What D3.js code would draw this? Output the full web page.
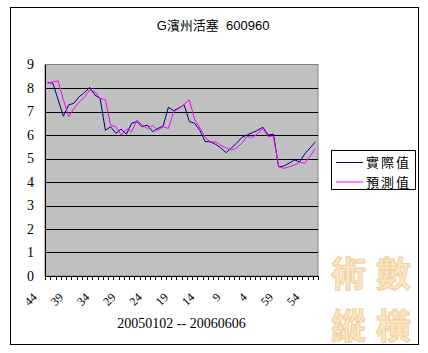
<!DOCTYPE html>
<html>
<head>
<meta charset="utf-8">
<script src="https://cdn.jsdelivr.net/npm/d3@7"></script>
<style>
  body { margin: 0; background: #fff; }
</style>
</head>
<body>
<div id="chart"></div>
<script>
// category labels (week numbers, as shown on the axis)
const categories = ["44","43","42","41","40","39","38","37","36","35","34","33","32","31","30",
  "29","28","27","26","25","24","23","22","21","20","19","18","17","16","15","14","13","12",
  "11","10","9","8","7","6","5","4","3","2","1","0","59","58","57","56","55","54","53"];

// 實際值 (actual)
const actual = [8.24,8.2,7.5,6.8,7.28,7.35,7.63,7.8,8.03,7.7,7.56,6.2,6.35,6.07,6.25,6.03,
  6.5,6.57,6.35,6.42,6.14,6.28,6.38,7.18,7.03,7.15,7.28,6.57,6.5,6.2,5.72,5.71,5.6,5.45,5.25,
  5.45,5.65,5.9,6.0,6.1,6.2,6.33,6.0,6.04,4.65,4.68,4.8,4.94,4.86,5.2,5.45,5.71];

// 預測值 (predicted)
const predicted = [8.2,8.27,8.3,7.5,6.78,7.13,7.4,7.6,7.91,7.84,7.56,7.5,6.42,6.35,6.0,6.25,
  6.14,6.64,6.42,6.28,6.4,6.2,6.35,6.28,6.99,7.13,7.3,7.49,6.65,6.3,5.9,5.71,5.7,5.57,5.45,
  5.36,5.45,5.65,5.93,5.9,6.05,6.28,5.93,5.96,4.65,4.58,4.65,4.72,4.84,4.8,5.1,5.43];

const yTicks = [0,1,2,3,4,5,6,7,8,9];
const title = "G濱州活塞\u00a0\u00a0600960";
const xTitle = "20050102 -- 20060606";
const seriesNames = ["實際值", "預測值"];
const seriesColors = ["#000080", "#ff00ff"];
const watermark = ["術數", "縱橫"];

const width = 428;
const height = 353;
const plotLeft = 45, plotRight = 318, plotTop = 64.5, plotBottom = 276;

const x = d3.scaleBand().domain(d3.range(categories.length)).range([plotLeft, plotRight]);
const y = d3.scaleLinear().domain([0, 9]).range([plotBottom, plotTop]);

const svg = d3.create("svg")
    .attr("width", width)
    .attr("height", height)
    .attr("viewBox", [0, 0, width, height]);

// outer frame
svg.append("rect")
    .attr("x", 10.5).attr("y", 7.5)
    .attr("width", 408).attr("height", 337)
    .attr("fill", "#fff").attr("stroke", "#000");

// watermark, two rows
const wm = svg.append("g")
    .attr("font-family", "'Noto Sans CJK TC'")
    .attr("font-weight", "bold")
    .attr("font-size", 35)
    .attr("letter-spacing", 10)
    .attr("fill", "#fbe6c4")
    .attr("stroke", "#f0cf9a")
    .attr("stroke-width", 1);
watermark.forEach((row, r) => {
    wm.append("text")
        .attr("x", 331)
        .attr("y", 287 + r * 52)
        .text(row);
});

// title
svg.append("text")
    .attr("x", 213).attr("y", 30)
    .attr("text-anchor", "middle")
    .attr("font-family", "'Liberation Sans', 'Noto Sans CJK TC'")
    .attr("font-size", 13)
    .text(title);

// plot area
svg.append("rect")
    .attr("x", plotLeft).attr("y", plotTop)
    .attr("width", plotRight - plotLeft).attr("height", plotBottom - plotTop)
    .attr("fill", "#c0c0c0").attr("stroke", "#808080");

// gridlines
svg.append("g")
    .selectAll("line")
    .data(yTicks.filter(d => d > 0 && d < 9))
    .join("line")
    .attr("x1", plotLeft).attr("x2", plotRight)
    .attr("y1", d => Math.round(y(d)) + 0.5).attr("y2", d => Math.round(y(d)) + 0.5)
    .attr("stroke", "#000");

// y axis
const yAxis = svg.append("g")
    .attr("transform", `translate(${plotLeft},0)`)
    .call(d3.axisLeft(y).tickValues(yTicks).tickSize(0).tickPadding(11));
yAxis.select(".domain").attr("stroke", "#000");
yAxis.selectAll("text")
    .attr("font-family", "'Liberation Serif'")
    .attr("font-size", 14)
    .attr("fill", "#000");

// x axis line and ticks at category boundaries
const bounds = d3.range(categories.length + 1).map(i => plotLeft + i * x.step());
svg.append("line")
    .attr("x1", plotLeft).attr("x2", plotRight)
    .attr("y1", plotBottom + 0.5).attr("y2", plotBottom + 0.5)
    .attr("stroke", "#000");
svg.append("g")
    .selectAll("line")
    .data(bounds)
    .join("line")
    .attr("x1", d => Math.round(d) + 0.5).attr("x2", d => Math.round(d) + 0.5)
    .attr("y1", plotBottom).attr("y2", plotBottom + 4)
    .attr("stroke", "#000");

// rotated category labels, every 5th
svg.append("g")
    .selectAll("text")
    .data(categories.map((c, i) => ({c, i})).filter(d => d.i % 5 === 0))
    .join("text")
    .attr("transform", d => `translate(${x(d.i) + x.bandwidth() / 2 - 10},298) rotate(-45)`)
    .attr("text-anchor", "end")
    .attr("font-family", "'Liberation Serif'")
    .attr("font-size", 12)
    .text(d => d.c);

// x title
svg.append("text")
    .attr("x", 181.5).attr("y", 328)
    .attr("text-anchor", "middle")
    .attr("font-family", "'Liberation Serif'")
    .attr("font-size", 14)
    .text(xTitle);

// lines
const line = d3.line()
    .x((d, i) => x(i) + x.bandwidth() / 2)
    .y(d => y(d));

[actual, predicted].forEach((s, k) => {
    svg.append("path")
        .attr("d", line(s))
        .attr("fill", "none")
        .attr("stroke", seriesColors[k])
        .attr("stroke-width", 1);
});

// legend
const legend = svg.append("g");
legend.append("rect")
    .attr("x", 331.5).attr("y", 150.5)
    .attr("width", 84).attr("height", 39)
    .attr("fill", "#fff").attr("stroke", "#000");
seriesNames.forEach((name, k) => {
    const cy = 162 + k * 19.5;
    legend.append("line")
        .attr("x1", 336).attr("x2", 363)
        .attr("y1", cy + 0.5).attr("y2", cy + 0.5)
        .attr("stroke", seriesColors[k]);
    legend.append("text")
        .attr("x", 366).attr("y", cy + 5)
        .attr("font-family", "'Noto Sans CJK TC'")
        .attr("font-size", 13)
        .attr("letter-spacing", 2)
        .text(name);
});

document.getElementById("chart").appendChild(svg.node());
</script>
</body>
</html>
